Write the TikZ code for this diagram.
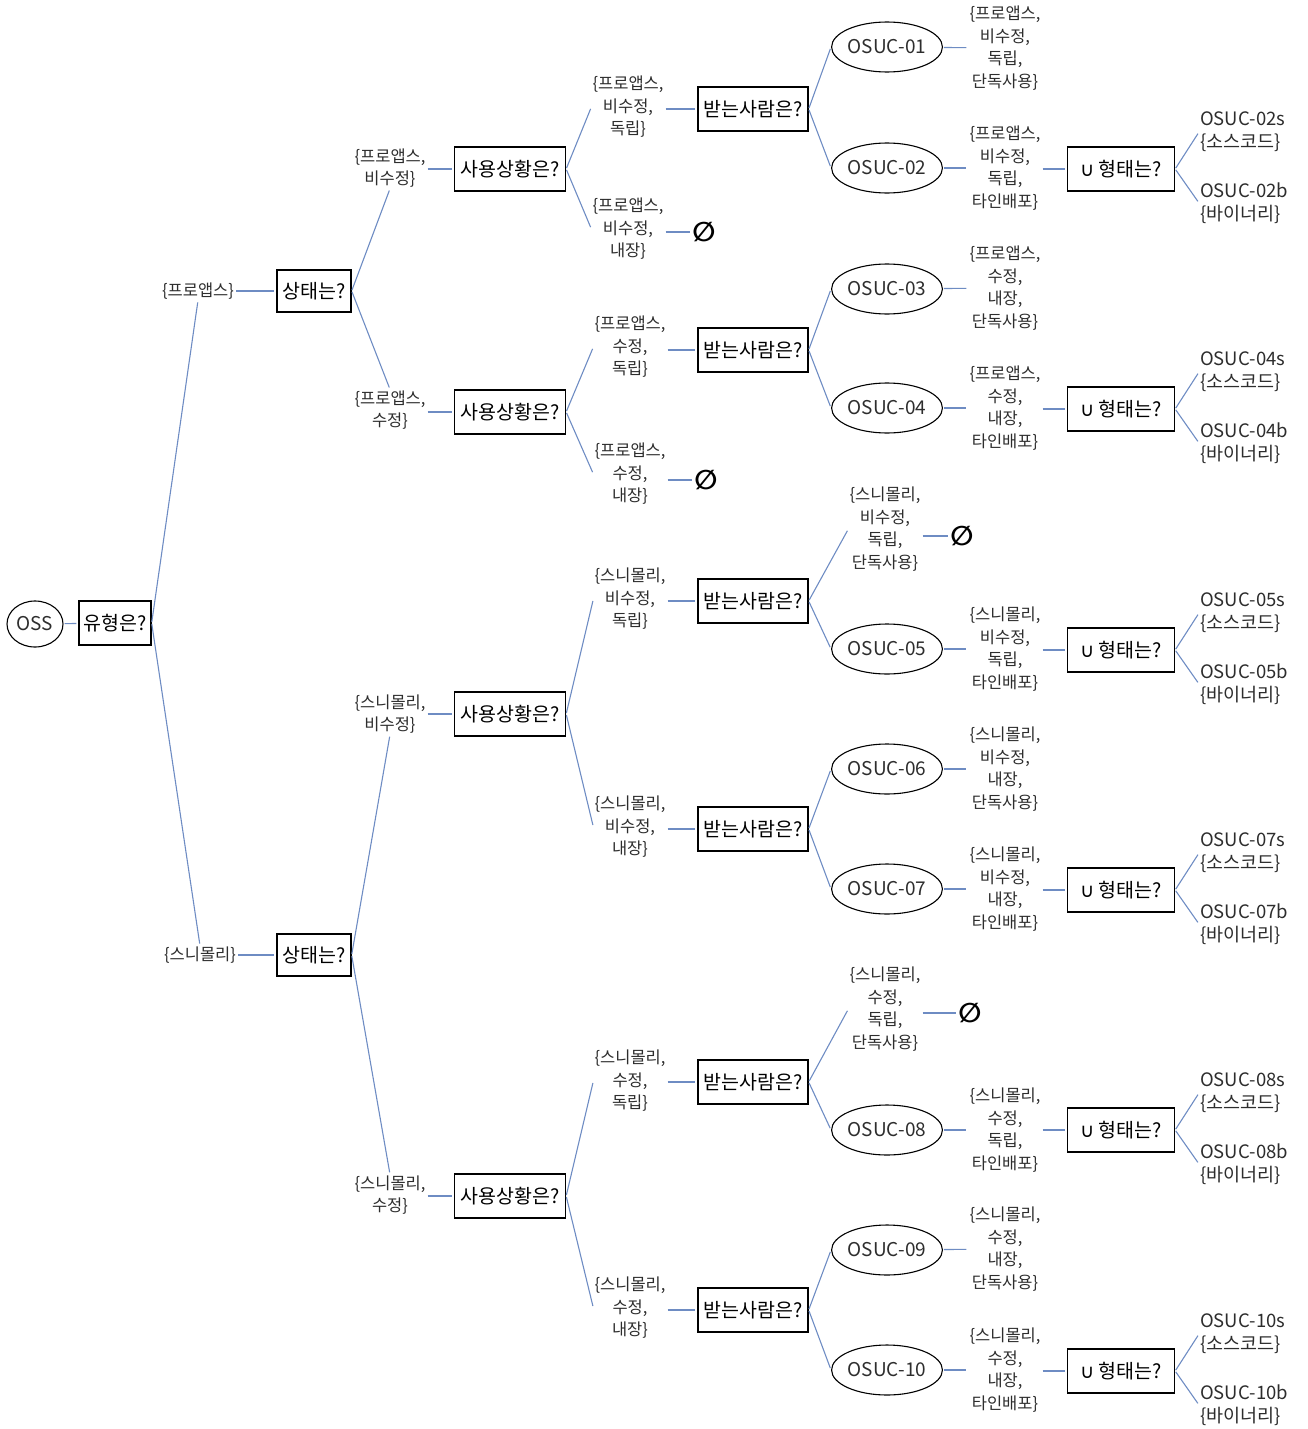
\documentclass[tikz,border=0pt]{standalone}
\usepackage{fontspec}
\setmainfont{Noto Sans CJK KR}
\newfontfamily\symfont{DejaVu Sans}
\usetikzlibrary{shapes.geometric}
\definecolor{lc}{RGB}{110,140,195}
\definecolor{tc}{RGB}{45,45,45}
\tikzset{
  conn/.style={draw=lc, line width=1.1pt, shorten >=2pt, shorten <=1pt},
  lab/.style={align=center, inner sep=1pt, text=tc, font=\fontsize{16.5}{22.5}\selectfont},
  leaf/.style={align=left, inner sep=1pt, text=tc, anchor=west, font=\fontsize{18.5}{23}\selectfont},
  qbox/.style={draw=black, line width=1.3pt, rectangle, inner sep=1pt, minimum height=44pt, text=black, font=\fontsize{19.5}{22}\selectfont},
  ubox/.style={qbox, minimum width=107pt},
  rbox/.style={qbox, minimum width=110pt},
  sbox/.style={qbox, minimum width=111pt},
  oval/.style={draw=black, line width=1.1pt, ellipse, minimum width=110pt, minimum height=50pt, inner sep=0pt, text=tc, font=\fontsize{19}{20}\selectfont},
  empt/.style={inner sep=0pt, font=\symfont\bfseries\fontsize{27}{27}\selectfont}
}
\begin{document}
\begin{tikzpicture}[x=1pt,y=-1pt]
\useasboundingbox (0,0) rectangle (1308,1429);
% root
\node[oval, minimum width=56pt, minimum height=46pt] (oss) at (35,624) {OSS};
\node[qbox, minimum width=72pt] (q0) at (115,623) {유형은?};
% level 1
\node[lab] (a1) at (198,291) {\{프로앱스\}};
\node[lab] (a2) at (200,955) {\{스니몰리\}};
\node[qbox, minimum width=74pt, minimum height=42pt] (s1) at (314,291) {상태는?};
\node[qbox, minimum width=74pt, minimum height=42pt] (s2) at (314,955) {상태는?};
% level 2
\node[lab] (b1) at (390,168) {\{프로앱스,\\비수정\}};
\node[lab] (b2) at (390,410) {\{프로앱스,\\수정\}};
\node[lab] (b3) at (390,714) {\{스니몰리,\\비수정\}};
\node[lab] (b4) at (390,1195) {\{스니몰리,\\수정\}};
\node[sbox] (u1) at (510,169) {사용상황은?};
\node[sbox] (u2) at (510,412) {사용상황은?};
\node[sbox] (u3) at (510,714) {사용상황은?};
\node[sbox] (u4) at (510,1196) {사용상황은?};
% level 3
\node[lab] (c1a) at (628,107) {\{프로앱스,\\비수정,\\독립\}};
\node[lab] (c1b) at (628,229) {\{프로앱스,\\비수정,\\내장\}};
\node[lab] (c2a) at (630,347) {\{프로앱스,\\수정,\\독립\}};
\node[lab] (c2b) at (630,474) {\{프로앱스,\\수정,\\내장\}};
\node[lab] (c3a) at (630,599) {\{스니몰리,\\비수정,\\독립\}};
\node[lab] (c3b) at (630,827) {\{스니몰리,\\비수정,\\내장\}};
\node[lab] (c4a) at (630,1081) {\{스니몰리,\\수정,\\독립\}};
\node[lab] (c4b) at (630,1308) {\{스니몰리,\\수정,\\내장\}};
\node[rbox] (r1) at (753,109) {받는사람은?};
\node[empt] (n1) at (704,232) {∅};
\node[rbox] (r2) at (753,350) {받는사람은?};
\node[empt] (n2) at (706,480) {∅};
\node[rbox] (r3) at (753,601) {받는사람은?};
\node[rbox] (r4) at (753,829) {받는사람은?};
\node[rbox] (r5) at (753,1082) {받는사람은?};
\node[rbox] (r6) at (753,1310) {받는사람은?};
% level 4
\node[oval] (o1) at (887,47) {OSUC-01};
\node[oval] (o2) at (887,168) {OSUC-02};
\node[oval] (o3) at (887,289) {OSUC-03};
\node[oval] (o4) at (887,408) {OSUC-04};
\node[lab] (d3) at (885,529) {\{스니몰리,\\비수정,\\독립,\\단독사용\}};
\node[empt] (n3) at (962,536) {∅};
\node[oval] (o5) at (887,649) {OSUC-05};
\node[oval] (o6) at (887,769) {OSUC-06};
\node[oval] (o7) at (887,889) {OSUC-07};
\node[lab] (d5) at (885,1009) {\{스니몰리,\\수정,\\독립,\\단독사용\}};
\node[empt] (n5) at (970,1013) {∅};
\node[oval] (o8) at (887,1130) {OSUC-08};
\node[oval] (o9) at (887,1250) {OSUC-09};
\node[oval] (o10) at (887,1370) {OSUC-10};
% level 5
\node[lab] (f1) at (1005,48) {\{프로앱스,\\비수정,\\독립,\\단독사용\}};
\node[lab] (f2) at (1005,168) {\{프로앱스,\\비수정,\\독립,\\타인배포\}};
\node[lab] (f3) at (1005,288) {\{프로앱스,\\수정,\\내장,\\단독사용\}};
\node[lab] (f4) at (1005,408) {\{프로앱스,\\수정,\\내장,\\타인배포\}};
\node[lab] (f5) at (1005,649) {\{스니몰리,\\비수정,\\독립,\\타인배포\}};
\node[lab] (f6) at (1005,769) {\{스니몰리,\\비수정,\\내장,\\단독사용\}};
\node[lab] (f7) at (1005,889) {\{스니몰리,\\비수정,\\내장,\\타인배포\}};
\node[lab] (f8) at (1005,1130) {\{스니몰리,\\수정,\\독립,\\타인배포\}};
\node[lab] (f9) at (1005,1249) {\{스니몰리,\\수정,\\내장,\\단독사용\}};
\node[lab] (f10) at (1005,1370) {\{스니몰리,\\수정,\\내장,\\타인배포\}};
% union boxes and leaves
\foreach \k/\y in {02/169,04/409,05/650,07/890,08/1130,10/1371}{
  \node[ubox] (t\k) at (1121,\y) {{\symfont ∪} 형태는?};
  \node[leaf] (ls\k) at (1199,\y-37) {OSUC-\k s\\\{소스코드\}};
  \node[leaf] (lb\k) at (1199,\y+34) {OSUC-\k b\\\{바이너리\}};
  \draw[conn] (t\k.east) -- (ls\k.west);
  \draw[conn] (t\k.east) -- (lb\k.west);
}
% connectors
\draw[conn] (oss) -- (q0);
\draw[conn] (q0.east) -- (a1.south);
\draw[conn] (q0.east) -- (a2.north);
\draw[conn] (a1) -- (s1);
\draw[conn] (a2) -- (s2);
\draw[conn] (s1.east) -- (b1.south);
\draw[conn] (s1.east) -- (b2.north);
\draw[conn] (s2.east) -- (b3.south);
\draw[conn] (s2.east) -- (b4.north);
\draw[conn] (b1.east |- u1.west) -- (u1.west);
\draw[conn] (b2.east |- u2.west) -- (u2.west);
\draw[conn] (b3.east |- u3.west) -- (u3.west);
\draw[conn] (b4.east |- u4.west) -- (u4.west);
\draw[conn] (u1.east) -- (c1a.west);
\draw[conn] (u1.east) -- (c1b.west);
\draw[conn] (u2.east) -- (c2a.west);
\draw[conn] (u2.east) -- (c2b.west);
\draw[conn] (u3.east) -- (c3a.west);
\draw[conn] (u3.east) -- (c3b.west);
\draw[conn] (u4.east) -- (c4a.west);
\draw[conn] (u4.east) -- (c4b.west);
\draw[conn] (c1a.east |- r1.west) -- (r1.west);
\draw[conn] (c1b.east |- n1.west) -- (n1.west);
\draw[conn] (c2a.east |- r2.west) -- (r2.west);
\draw[conn] (c2b.east |- n2.west) -- (n2.west);
\draw[conn] (c3a.east |- r3.west) -- (r3.west);
\draw[conn] (c3b.east |- r4.west) -- (r4.west);
\draw[conn] (c4a.east |- r5.west) -- (r5.west);
\draw[conn] (c4b.east |- r6.west) -- (r6.west);
\draw[conn] (r1.east) -- (o1.west);
\draw[conn] (r1.east) -- (o2.west);
\draw[conn] (r2.east) -- (o3.west);
\draw[conn] (r2.east) -- (o4.west);
\draw[conn] (r3.east) -- (d3.west);
\draw[conn] (r3.east) -- (o5.west);
\draw[conn] (r4.east) -- (o6.west);
\draw[conn] (r4.east) -- (o7.west);
\draw[conn] (r5.east) -- (d5.west);
\draw[conn] (r5.east) -- (o8.west);
\draw[conn] (r6.east) -- (o9.west);
\draw[conn] (r6.east) -- (o10.west);
\draw[conn] (d3.east |- n3.west) -- (n3.west);
\draw[conn] (d5.east |- n5.west) -- (n5.west);
\draw[conn] (o1) -- (f1);
\draw[conn] (o2) -- (f2);
\draw[conn] (o3) -- (f3);
\draw[conn] (o4) -- (f4);
\draw[conn] (o5) -- (f5);
\draw[conn] (o6) -- (f6);
\draw[conn] (o7) -- (f7);
\draw[conn] (o8) -- (f8);
\draw[conn] (o9) -- (f9);
\draw[conn] (o10) -- (f10);
\draw[conn] (f2.east |- t02.west) -- (t02.west);
\draw[conn] (f4.east |- t04.west) -- (t04.west);
\draw[conn] (f5.east |- t05.west) -- (t05.west);
\draw[conn] (f7.east |- t07.west) -- (t07.west);
\draw[conn] (f8.east |- t08.west) -- (t08.west);
\draw[conn] (f10.east |- t10.west) -- (t10.west);
\end{tikzpicture}
\end{document}
